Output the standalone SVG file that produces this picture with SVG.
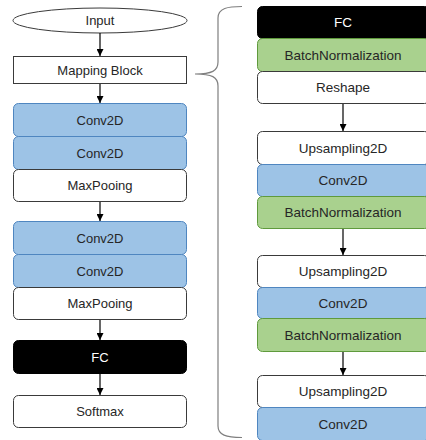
<svg xmlns="http://www.w3.org/2000/svg" width="426" height="440" viewBox="0 0 426 440">
<style>
text{font-family:"Liberation Sans",Arial,sans-serif;font-size:13px;fill:#262626;text-anchor:middle;dominant-baseline:central}
.r text{font-size:13.5px}
.w{fill:#fff;stroke:#3a3a3a;stroke-width:1}
.b{fill:#9dc3e6;stroke:#4f86c0;stroke-width:1}
.g{fill:#a9d18e;stroke:#5f9a3c;stroke-width:1}
.k{fill:#000;stroke:#000;stroke-width:1}
text.t{fill:#fff}
.c line{stroke:#000;stroke-width:1.2;marker-end:url(#ah)}
</style>
<defs>
<marker id="ah" viewBox="0 0 10 10" refX="10" refY="5" markerWidth="7" markerHeight="7" markerUnits="userSpaceOnUse" orient="auto">
<path d="M0,0 L10,5 L0,10 z" fill="#000"/>
</marker>
</defs>
<g id="input"><ellipse class="w" cx="100" cy="20.5" rx="87" ry="12.5"/><text x="100" y="20.5">Input</text></g>
<g id="mapping"><rect class="w" x="13.5" y="56.5" width="173" height="27"/><text x="100" y="70">Mapping Block</text></g>
<g id="l-conv1"><rect class="b" x="13.5" y="103.5" width="173" height="33" rx="5"/><text x="100" y="120">Conv2D</text></g>
<g id="l-conv2"><rect class="b" x="13.5" y="136.5" width="173" height="33" rx="5"/><text x="100" y="153">Conv2D</text></g>
<g id="l-pool1"><rect class="w" x="13.5" y="169.5" width="173" height="32" rx="5"/><text x="100" y="185.5">MaxPooing</text></g>
<g id="l-conv3"><rect class="b" x="13.5" y="221.5" width="173" height="33" rx="5"/><text x="100" y="238">Conv2D</text></g>
<g id="l-conv4"><rect class="b" x="13.5" y="254.5" width="173" height="33" rx="5"/><text x="100" y="271">Conv2D</text></g>
<g id="l-pool2"><rect class="w" x="13.5" y="287.5" width="173" height="32" rx="5"/><text x="100" y="303.5">MaxPooing</text></g>
<g id="l-fc"><rect class="k" x="13.5" y="340.5" width="173" height="33" rx="5"/><text class="t" x="100" y="357">FC</text></g>
<g id="l-softmax"><rect class="w" x="13.5" y="395.5" width="173" height="32" rx="5"/><text x="100" y="411.5">Softmax</text></g>

<g id="brace"><path d="M242,6.5 C228,6.5 218,8 218,18 L218,62 C218,71 212,74 195,74 C212,74 218,77 218,86 L218,426 C218,435 226,437.5 242,437.5" fill="none" stroke="#7f7f7f" stroke-width="1.2"/></g>

<g class="r">
<g id="r-fc"><rect class="k" x="257.5" y="6.5" width="172" height="32" rx="5"/><text class="t" x="343" y="22.5">FC</text></g>
<g id="r-bn1"><rect class="g" x="257.5" y="38.5" width="172" height="33" rx="5"/><text x="343" y="55">BatchNormalization</text></g>
<g id="r-reshape"><rect class="w" x="257.5" y="71.5" width="172" height="32" rx="5"/><text x="343" y="87.5">Reshape</text></g>
<g id="r-up1"><rect class="w" x="257.5" y="131.5" width="172" height="33" rx="5"/><text x="343" y="148">Upsampling2D</text></g>
<g id="r-conv1"><rect class="b" x="257.5" y="164.5" width="172" height="32" rx="5"/><text x="343" y="180.5">Conv2D</text></g>
<g id="r-bn2"><rect class="g" x="257.5" y="196.5" width="172" height="32" rx="5"/><text x="343" y="212.5">BatchNormalization</text></g>
<g id="r-up2"><rect class="w" x="257.5" y="255.5" width="172" height="32" rx="5"/><text x="343" y="271.5">Upsampling2D</text></g>
<g id="r-conv2"><rect class="b" x="257.5" y="287.5" width="172" height="31" rx="5"/><text x="343" y="303">Conv2D</text></g>
<g id="r-bn3"><rect class="g" x="257.5" y="318.5" width="172" height="33" rx="5"/><text x="343" y="335">BatchNormalization</text></g>
<g id="r-up3"><rect class="w" x="257.5" y="375.5" width="172" height="32" rx="5"/><text x="343" y="391.5">Upsampling2D</text></g>
<g id="r-conv3"><rect class="b" x="257.5" y="407.5" width="172" height="33" rx="5"/><text x="343" y="424">Conv2D</text></g>
</g>

<g class="c" id="connectors">
<line x1="100" y1="33" x2="100" y2="56"/>
<line x1="100" y1="84" x2="100" y2="103"/>
<line x1="100" y1="202" x2="100" y2="221"/>
<line x1="100" y1="320" x2="100" y2="340"/>
<line x1="100" y1="374" x2="100" y2="395"/>
<line x1="343" y1="104" x2="343" y2="131"/>
<line x1="343" y1="229" x2="343" y2="255"/>
<line x1="343" y1="352" x2="343" y2="375"/>
</g>
</svg>
